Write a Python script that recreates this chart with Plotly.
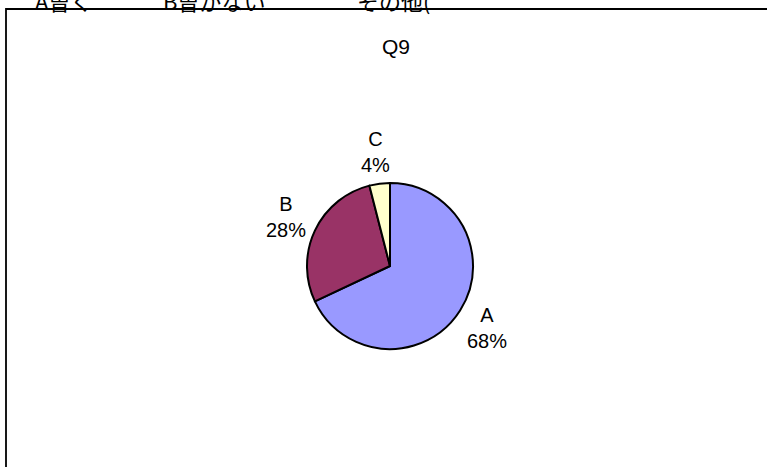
import math
import plotly.graph_objects as go

W, H = 767, 467

labels = ["A", "B", "C"]
values = [68, 28, 4]
colors = ["#9999FF", "#993366", "#FFFFCC"]
title_text = "Q9"
header_parts = ["A曽く", "B曽がない", "その他("]
header_x = [33, 161, 355]

cx, cy, r = 390, 266, 83
label_r = 1.39 * r

fig = go.Figure(go.Pie(
    labels=labels,
    values=values,
    sort=False,
    direction="clockwise",
    rotation=0,
    marker=dict(colors=colors, line=dict(color="black", width=2)),
    textinfo="none",
    hoverinfo="label+percent",
    showlegend=False,
    domain=dict(x=[(cx - r) / W, (cx + r) / W], y=[(H - cy - r) / H, (H - cy + r) / H]),
))

annotations = [
    dict(text=title_text, xref="paper", yref="paper", x=396 / W, y=1 - 47 / H,
         xanchor="center", yanchor="middle", showarrow=False,
         font=dict(family="Liberation Sans, Arial", size=21, color="black")),
]

# data labels placed along each slice's mid-angle (clockwise from 12 o'clock)
total = sum(values)
cum = 0
for lab, v in zip(labels, values):
    mid = (cum + v / 2) / total * 2 * math.pi
    cum += v
    px = cx + label_r * math.sin(mid)
    py = cy - label_r * math.cos(mid)
    annotations.append(dict(text=f"{lab}<br>{round(100 * v / total)}%",
                            xref="paper", yref="paper", x=px / W, y=1 - py / H,
                            xanchor="center", yanchor="middle", showarrow=False,
                            font=dict(family="Liberation Sans, Arial", size=20, color="black")))

for t, x in zip(header_parts, header_x):
    annotations.append(dict(text=t, xref="paper", yref="paper", x=x / W, y=1.0,
                            xanchor="left", yanchor="middle", showarrow=False,
                            font=dict(family="Noto Sans CJK JP", size=22, color="black")))

fig.update_layout(
    width=W, height=H,
    margin=dict(l=0, r=0, t=0, b=0),
    paper_bgcolor="white",
    plot_bgcolor="white",
    annotations=annotations,
    shapes=[dict(type="rect", xref="paper", yref="paper",
                 x0=6 / W, x1=1.05, y0=-0.05, y1=1 - 9 / H,
                 line=dict(color="black", width=1.8))],
)

fig.write_html("out.html", config={"displayModeBar": False},
               post_script="document.body.style.margin='0px';")
